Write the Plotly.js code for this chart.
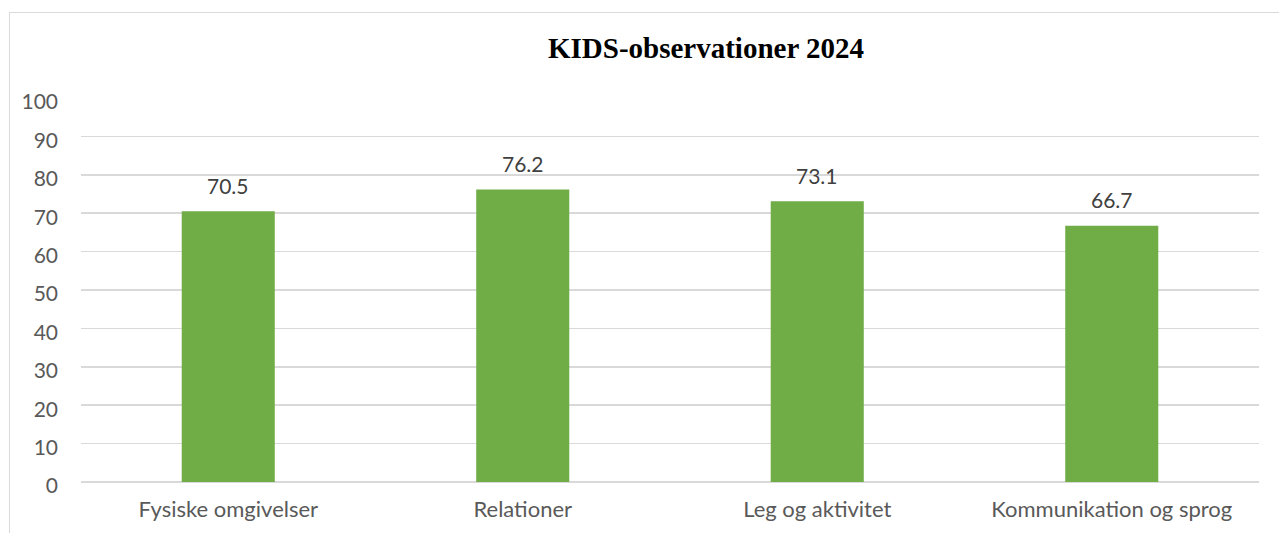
<!DOCTYPE html>
<html>
<head>
<meta charset="utf-8">
<script src="https://cdn.plot.ly/plotly-3.0.1.min.js"></script>
<style>
  html, body { margin: 0; padding: 0; background: #fff; overflow: hidden; }
  #frame { position: absolute; left: 9px; top: 12px; width: 1400px; height: 700px; border: 1.5px solid #d9d9d9; box-sizing: border-box; }
  #chart { position: absolute; left: 0; top: 0; width: 1279px; height: 533px; }
</style>
</head>
<body>
<div id="frame"></div>
<div id="chart"></div>
<script>
const categories = ["Fysiske omgivelser", "Relationer", "Leg og aktivitet", "Kommunikation og sprog"];
const values = [70.5, 76.2, 73.1, 66.7];
const yTicks = [0, 10, 20, 30, 40, 50, 60, 70, 80, 90, 100];
const chartTitle = "KIDS-observationer 2024";

const FONT = "Lato, 'Open Sans', sans-serif";

const trace = {
  type: "bar",
  x: categories,
  y: values,
  marker: { color: "#70AD47" },
  width: 0.316,
  hoverinfo: "x+y"
};

const annotations = categories.map((c, i) => ({
  x: c, y: values[i], xref: "x", yref: "y",
  text: values[i].toFixed(1),
  showarrow: false, yanchor: "middle", yshift: 26,
  font: { family: FONT, size: 21, color: "#404040" }
}));

const layout = {
  width: 1279, height: 533,
  paper_bgcolor: "rgba(0,0,0,0)",
  plot_bgcolor: "rgba(0,0,0,0)",
  margin: { l: 81, r: 20, t: 98, b: 51 },
  showlegend: false,
  title: {
    text: "<b>" + chartTitle + "</b>",
    font: { family: "'Liberation Serif', 'Times New Roman', serif", size: 29, color: "#000" },
    x: 706 / 1279, xref: "container", xanchor: "center",
    y: 1 - 48 / 533, yref: "container", yanchor: "middle"
  },
  xaxis: {
    type: "category",
    tickfont: { family: FONT, size: 22, color: "#595959" },
    ticks: "", showgrid: false, showline: false, zeroline: false,
    ticklabelstandoff: 12
  },
  yaxis: {
    range: [0, 100],
    tickvals: yTicks,
    ticktext: yTicks.map(String),
    tickfont: { family: FONT, size: 21, color: "#595959" },
    showgrid: true, gridcolor: "#d9d9d9", gridwidth: 1.5,
    zeroline: true, zerolinecolor: "#d9d9d9", zerolinewidth: 1.5,
    showline: false, ticks: "", ticklabelstandoff: 22,
    ticklabelshift: 4
  },
  annotations: annotations,
  bargap: 0.684
};

Plotly.newPlot("chart", [trace], layout, { displayModeBar: false, staticPlot: true });
</script>
</body>
</html>
